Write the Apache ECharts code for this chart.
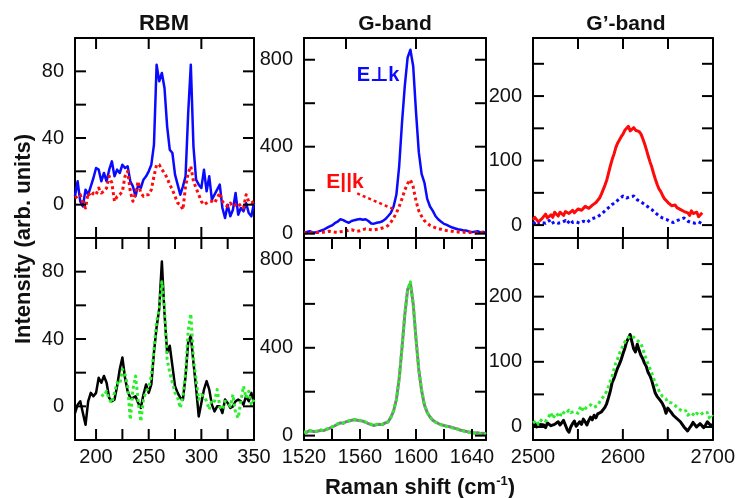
<!DOCTYPE html>
<html>
<head>
<meta charset="utf-8">
<script src="https://cdn.jsdelivr.net/npm/echarts@6/dist/echarts.min.js"></script>
<style>
  html, body { margin: 0; padding: 0; background: #fff; }
  #chart { width: 738px; height: 498px; }
</style>
</head>
<body>
<div id="chart"></div>
<script>
// ---- RBM region: 180–350 cm-1, one reading every 2.5 cm-1 ----
const rbmStart = 180, rbmStep = 2.5;
const rbmPerp = [5,14,2,-1,9,6,11,16,22,21, 14,19,14,21,26,17,21,19,24,22,
  23,14,11,5,12,10,15,17,20,24, 36,84,74,79,70,47,33,31,18,12,
  6,11,17,55,84,35,15,12,10,21, 8,17,3,6,9,12,-2,-8,0,-7,
  -3,7,-6,-2,-4,1,-5,-7,1];
const rbmPar = [4,5,6,1,-2,7,5,7,6,10, 7,8,10,17,13,2,5,6,8,17,
  20,8,2,7,14,7,5,6,6,9, 17,24,24,21,19,16,12,9,5,1,
  0,-3,11,19,23,14,10,6,2,0, 1,2,2,1,4,7,2,0,-1,1,
  -1,0,1,-1,-2,6,2,1,2];
const rbmSample = [-4,1,3,-4,-11,3,8,6,8,17, 14,18,14,5,3,4,12,22,29,17,
  9,5,5,6,2,-1,7,13,8,13, 32,47,58,86,55,32,36,24,12,8,
  5,4,18,38,42,26,11,-6,2,10, 15,10,1,-3,0,0,-4,4,2,-1,
  0,3,4,3,1,6,3,8,2];
const rbmRef = [null,null,null,null,null,null,null,null,null,null,
  7,6,9,4,2,8,14,13,22,19, 12,-8,10,18,3,-9,4,9,11,18,
  34,50,58,74,58,28,20,14,8,5, -1,6,20,45,55,28,16,4,7,6,
  3,-2,4,3,10,0,-2,3,2,0, 7,-4,-7,3,12,5,9,1,4];

// ---- G band: 1520–1650 cm-1, every 2 cm-1 ----
const gStart = 1520, gStep = 2;
const gPerp = [5,8,11,7,5,9,14,18,25,32, 38,48,55,66,62,55,50,58,62,65,
  67,64,66,58,47,46,50,52,57,66, 80,95,125,180,311,510,680,810,846,770,
  560,375,275,235,160,125,105,80,65,55, 45,40,34,28,24,20,18,15,14,10,
  7,9,11,6,8,3];
const gPar = [4,3,5,4,6,5,6,7,8,11, 9,7,6,9,10,12,16,18,14,11,
  13,18,22,20,18,17,20,22,26,30, 37,52,72,95,125,160,200,230,248,215,
  150,105,80,60,48,38,32,27,22,20, 16,14,12,11,9,8,6,7,5,6,
  4,3,5,4,6,5];
const gSample = [15,17,22,20,18,21,24,23,28,33, 38,45,52,58,56,63,66,70,72,70,
  68,66,60,55,50,46,50,52,50,58, 62,83,112,165,260,400,550,665,695,600,
  440,300,205,140,105,85,70,62,55,50, 46,43,40,37,33,30,24,22,19,16,
  14,12,13,10,11,8];
const gRef = [17,14,24,18,20,19,26,21,30,31, 40,43,54,56,58,61,68,68,74,68,
  70,64,62,53,52,44,52,50,52,56, 64,81,115,162,262,398,553,662,700,598,
  443,298,208,138,107,83,72,60,57,48, 48,41,42,35,35,28,26,20,21,14,
  16,10,15,8,13,6];

// ---- G' band: 2500–2700 cm-1, every 2 cm-1 ----
const g2Start = 2500, g2Step = 2;
const g2Par = [8,12,9,5,7,10,13,17,11,14, 16,12,20,17,14,20,18,15,21,24,
  18,21,23,19,22,25,27,23,26,29, 30,26,29,31,33,35,38,42,48,55,
  62,70,81,92,102,110,120,127,132,137, 141,147,150,153,146,148,151,147,150,145,
  141,134,126,117,107,98,90,80,71,63, 56,52,46,41,39,35,32,30,28,31,
  27,25,24,26,21,24,19,15,22,18, 16,20,13,16,19];
const g2Perp = [2,4,5,1,3,4,6,3,4,7, 2,4,5,6,3,2,4,5,7,3,
  6,8,4,3,5,7,3,5,6,9, 4,7,9,8,11,14,13,16,17,19,
  22,24,27,30,32,34,36,39,41,38, 45,47,42,40,44,41,45,43,39,41,
  36,35,32,33,28,30,24,21,19,17, 14,15,11,12,9,7,6,8,4,5,
  7,10,9,8,11,9,6,8,4,2, 3,6,5,3,2];
const g2Sample = [2,6,0,-3,4,7,3,-1,6,9, 2,5,4,1,8,3,6,10,3,-4,
  -8,0,5,9,1,-2,8,4,12,8, 3,10,15,11,18,14,20,17,23,26,
  30,36,45,55,68,74,82,90,96,103, 112,120,130,136,142,131,120,115,127,118,
  110,105,98,93,84,79,72,62,52,47, 45,40,36,30,21,29,26,22,18,15,
  13,10,8,4,0,2,-6,-2,2,7, 5,0,1,5,4,-1,3,8,6,2, 4];
const g2Ref = [6,9,10,4,8,12,14,9,12,17, 22,13,16,21,18,15,24,27,20,18,
  26,22,19,24,25,21,28,32,24,27, 31,29,34,37,30,32,33,38,42,46,
  50,55,62,70,78,88,98,104,112,119, 124,130,134,132,140,143,138,135,133,136,
  128,121,112,104,97,90,83,75,68,63, 56,51,47,49,43,38,40,37,35,33,
  31,28,26,24,21,25,18,20,22,19, 17,21,24,18,20,23,26,22,14,19, 16];

// leader from the "E||k" tag towards the parallel-polarisation peak
const parLeader = [[1558, 185], [1585, 110]];

// ---- axis ranges, tick positions and labels ----
const rbmXRange = [180, 350], gXRange = [1520, 1650], g2XRange = [2500, 2700];
const rbmYRange = [-20, 100], gYRange = [-20, 900], g2YRange = [-20, 290];
const rbmXTicksTop = [200, 250, 300];
const rbmXTicksBottom = [200, 225, 250, 275, 300, 325];
const rbmXLabels = [200, 250, 300, 350];
const gXTicksTop = [1550, 1600];
const gXTicksBottom = [1540, 1560, 1580, 1600, 1620, 1640];
const gXLabels = [1520, 1560, 1600, 1640];
const g2XTicks = [2550, 2600, 2650];
const g2XLabels = [2500, 2600, 2700];
const rbmYTicks = [0, 20, 40, 60, 80];
const rbmYLabels = [0, 40, 80];
const gYTicks = [0, 200, 400, 600, 800];
const gYLabels = [0, 400, 800];
const g2YTicks = [0, 50, 100, 150, 200, 250];
const g2YLabels = [0, 100, 200];

const FONT = '"Liberation Sans", Arial, Helvetica, "DejaVu Sans", sans-serif';
const BLUE = '#0a0aff', RED = '#ff0a0a', GREEN = '#2bef2b', GRAY = '#808080', BLACK = '#000000';
const TICK = 11;

const cols = [{ left: 75, width: 179 }, { left: 304, width: 182 }, { left: 533, width: 180 }];
const rows = [{ top: 38, height: 200 }, { top: 238, height: 202 }];

const panels = [
  { col: 0, row: 0, xr: rbmXRange, yr: rbmYRange, xt: rbmXTicksTop, xl: null, yt: rbmYTicks, yl: rbmYLabels },
  { col: 1, row: 0, xr: gXRange, yr: gYRange, xt: gXTicksTop, xl: null, yt: gYTicks, yl: gYLabels },
  { col: 2, row: 0, xr: g2XRange, yr: g2YRange, xt: g2XTicks, xl: null, yt: g2YTicks, yl: g2YLabels },
  { col: 0, row: 1, xr: rbmXRange, yr: rbmYRange, xt: rbmXTicksBottom, xl: rbmXLabels, yt: rbmYTicks, yl: rbmYLabels },
  { col: 1, row: 1, xr: gXRange, yr: gYRange, xt: gXTicksBottom, xl: gXLabels, yt: gYTicks, yl: gYLabels },
  { col: 2, row: 1, xr: g2XRange, yr: g2YRange, xt: g2XTicks, xl: g2XLabels, yt: g2YTicks, yl: g2YLabels }
];

const frameLine = { show: true, onZero: false, lineStyle: { color: BLACK, width: 2 } };
const labelStyle = { fontSize: 20, color: '#111', fontFamily: FONT };

function axis(gridIndex, position, range, labels, isX) {
  return {
    type: 'value', gridIndex, position, min: range[0], max: range[1],
    axisLine: frameLine,
    axisTick: { show: false },
    axisLabel: labels
      ? Object.assign({ show: true, customValues: labels, margin: isX ? 7 : 11, hideOverlap: false,
          formatter: (v) => String(v) }, labelStyle)
      : { show: false },
    splitLine: { show: false }
  };
}

const grid = [], xAxis = [], yAxis = [];
panels.forEach((p, i) => {
  grid.push({ left: cols[p.col].left, width: cols[p.col].width, top: rows[p.row].top, height: rows[p.row].height, containLabel: false });
  xAxis.push(axis(i, 'bottom', p.xr, p.xl, true));
  xAxis.push(axis(i, 'top', p.xr, null, true));
  yAxis.push(axis(i, 'left', p.yr, p.yl, false));
  yAxis.push(axis(i, 'right', p.yr, null, false));
});

// inward tick marks on all four sides of a panel, placed through the panel's own scales
function tickMarks(panelIndex, p) {
  const data = [];
  p.xt.forEach((v) => { data.push([0, v]); data.push([1, v]); });
  p.yt.forEach((v) => { data.push([2, v]); data.push([3, v]); });
  return {
    type: 'custom', xAxisIndex: 2 * panelIndex, yAxisIndex: 2 * panelIndex,
    data, silent: true, z: 20, clip: false, animation: false,
    renderItem: (params, api) => {
      const side = api.value(0), v = api.value(1);
      let a, b;
      if (side === 0) { a = api.coord([v, p.yr[0]]); b = [a[0], a[1] - TICK]; }
      else if (side === 1) { a = api.coord([v, p.yr[1]]); b = [a[0], a[1] + TICK]; }
      else if (side === 2) { a = api.coord([p.xr[0], v]); b = [a[0] + TICK, a[1]]; }
      else { a = api.coord([p.xr[1], v]); b = [a[0] - TICK, a[1]]; }
      return { type: 'line', shape: { x1: a[0], y1: a[1], x2: b[0], y2: b[1] }, style: { stroke: BLACK, lineWidth: 2 } };
    }
  };
}

const pairs = (start, step, ys) => ys.map((y, i) => [start + i * step, y]);
const DOT = [3, 3];

function trace(panel, data, color, width, dash) {
  return {
    type: 'line', xAxisIndex: 2 * panel, yAxisIndex: 2 * panel, data,
    symbol: 'none', showSymbol: false, silent: true, animation: false,
    lineStyle: { color, width, type: dash || 'solid', cap: 'butt', join: 'round' }
  };
}

const series = [
  trace(0, pairs(rbmStart, rbmStep, rbmPerp), BLUE, 2.5),
  trace(0, pairs(rbmStart, rbmStep, rbmPar), RED, 3, DOT),
  trace(1, pairs(gStart, gStep, gPerp), BLUE, 2.5),
  trace(1, pairs(gStart, gStep, gPar), RED, 3, DOT),
  trace(1, parLeader, RED, 2.5, DOT),
  trace(2, pairs(g2Start, g2Step, g2Par), RED, 3),
  trace(2, pairs(g2Start, g2Step, g2Perp), BLUE, 3, DOT),
  trace(3, pairs(rbmStart, rbmStep, rbmSample), BLACK, 2.5),
  trace(3, pairs(rbmStart, rbmStep, rbmRef), GREEN, 3, DOT),
  trace(4, pairs(gStart, gStep, gSample), GRAY, 3),
  trace(4, pairs(gStart, gStep, gRef), GREEN, 3, DOT),
  trace(5, pairs(g2Start, g2Step, g2Sample), BLACK, 3),
  trace(5, pairs(g2Start, g2Step, g2Ref), GREEN, 3, DOT)
].concat(panels.map((p, i) => tickMarks(i, p)));

const boldText = (size) => 'bold ' + size + 'px ' + FONT;
const graphic = [
  { type: 'text', x: 164, y: 24, style: { text: 'RBM', font: boldText(22), fill: '#111', align: 'center', verticalAlign: 'middle' } },
  { type: 'text', x: 395, y: 24, style: { text: 'G-band', font: boldText(21), fill: '#111', align: 'center', verticalAlign: 'middle' } },
  { type: 'text', x: 626, y: 24, style: { text: 'G\u2019-band', font: boldText(21), fill: '#111', align: 'center', verticalAlign: 'middle' } },
  { type: 'text', x: 378, y: 75, style: { text: 'E\u22a5k', font: boldText(20), fill: BLUE, align: 'center', verticalAlign: 'middle' } },
  { type: 'text', x: 345, y: 182, style: { text: 'E||k', font: boldText(21), fill: RED, align: 'center', verticalAlign: 'middle' } },
  { type: 'text', x: 24, y: 239, rotation: Math.PI / 2,
    style: { text: 'Intensity (arb. units)', font: boldText(22), fill: '#111', align: 'center', verticalAlign: 'middle' } },
  { type: 'text', x: 420, y: 487,
    style: {
      text: '{a|Raman shift (cm}{s|-1}{a|)}', align: 'center', verticalAlign: 'middle',
      rich: {
        a: { font: boldText(22), fill: '#111', lineHeight: 24, verticalAlign: 'bottom' },
        s: { font: boldText(13), fill: '#111', lineHeight: 24, verticalAlign: 'top' }
      }
    } }
];

const chart = echarts.init(document.getElementById('chart'), null, { renderer: 'canvas' });
chart.setOption({ animation: false, grid, xAxis, yAxis, series, graphic });
</script>
</body>
</html>
